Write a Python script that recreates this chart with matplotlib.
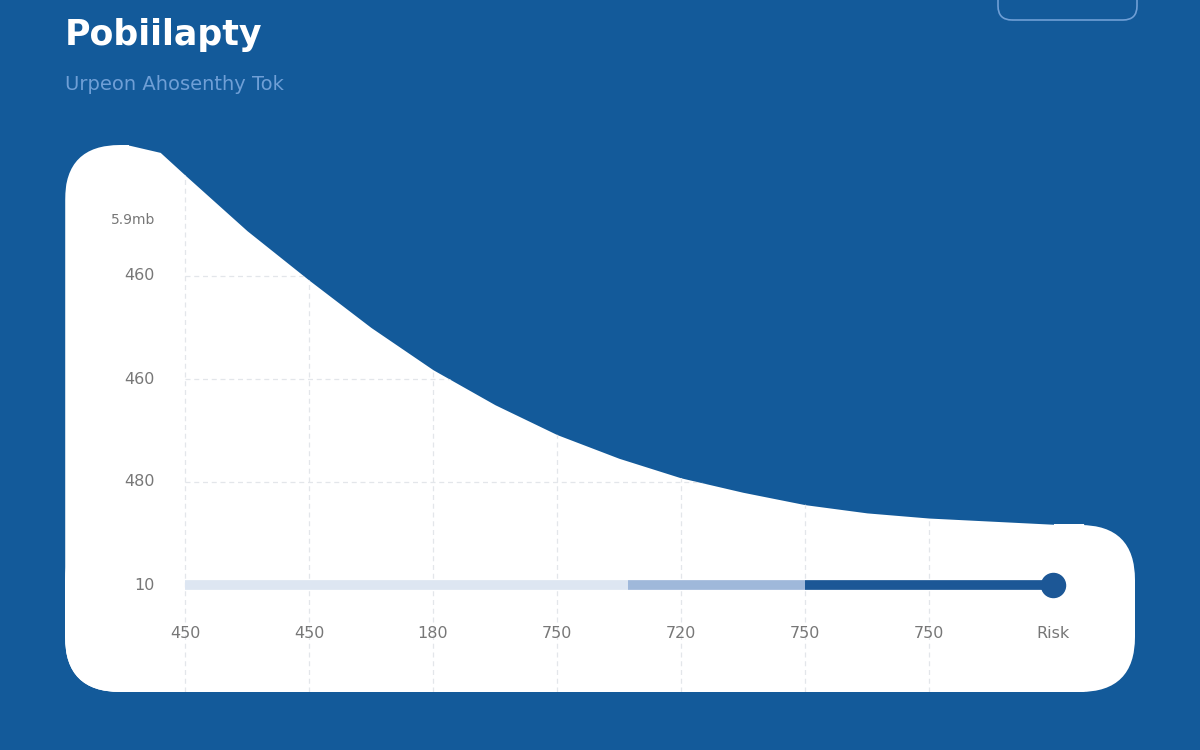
import matplotlib.pyplot as plt
import numpy as np
from matplotlib.patches import FancyBboxPatch

BG = "#135a9a"

# x categories (positions 0..7) and their labels
x_labels = ["450", "450", "180", "750", "720", "750", "750", "Risk"]
# y levels and labels
y_ticks = [0, 1, 2, 3, 3.54]
y_labels = ["10", "480", "460", "460", "5.9mb"]

# curve (x index, level)
curve_x = [-0.97, -0.45, -0.2, 0.0, 0.5, 1.0, 1.5, 2.0, 2.5, 3.0, 3.5, 4.0, 4.5, 5.0, 5.5, 6.0, 6.5, 7.0, 7.25]
curve_y = [4.27, 4.27, 4.20, 3.98, 3.44, 2.96, 2.50, 2.09, 1.75, 1.46, 1.23, 1.04, 0.90, 0.78, 0.70, 0.65, 0.62, 0.59, 0.59]

# progress bar segments (start, end, colour)
bar_segments = [(0, 3.57, "#dde6f2"), (3.57, 5.0, "#9fb8da"), (5.0, 7.0, "#1c5796")]

fig = plt.figure(figsize=(12, 7.5), dpi=100, facecolor=BG)
ax = fig.add_axes([0, 0, 1, 1])
ax.set_facecolor(BG)
ax.set_xlim((0 - 185) / 124, (1200 - 185) / 124)
ax.set_ylim((585 - 750) / 103, (585 - 0) / 103)
ax.axis("off")

def px(x, y):
    return (x - 185) / 124, (585 - y) / 103

# clip region: rounded card
x0, y0 = px(65, 692)
x1, y1 = px(1135, 145)
clip = FancyBboxPatch((65, 750 - 692), 1070, 547, boxstyle="round,pad=0,rounding_size=55",
                      transform=None, facecolor="none", edgecolor="none")
ax.add_patch(clip)

area = ax.fill_between(curve_x, curve_y, y0, color="white", lw=0)
area.set_clip_path(clip)
low = FancyBboxPatch((65, 750 - 692), 1070, 692 - 525, boxstyle="round,pad=0,rounding_size=55",
                     transform=None, facecolor="white", edgecolor="none")
ax.add_patch(low)

# grid
for i in range(0, 7):
    g = ax.plot([i, i], [y0, y1], color="#e3e6ea", lw=0.9, ls=(0, (4, 3)), zorder=2)[0]
    g.set_clip_path(area.get_paths()[0], area.get_transform())
for t in y_ticks[1:4]:
    g = ax.plot([0, 7.2], [t, t], color="#e3e6ea", lw=0.9, ls=(0, (4, 3)), zorder=2)[0]
    g.set_clip_path(area.get_paths()[0], area.get_transform())

# bar
for s, e, c in bar_segments:
    ax.plot([s, e], [0, 0], color=c, lw=7, solid_capstyle="butt", zorder=3)
ax.scatter([7], [0], s=300, color="#1c5796", zorder=4)

# tick labels
for i, lab in enumerate(x_labels):
    ax.text(i, px(0, 634)[1], lab, ha="center", va="center", fontsize=11.5, color="#777777",
            family="DejaVu Sans")
for t, lab in zip(y_ticks, y_labels):
    ax.text(px(155, 0)[0], t, lab, ha="right", va="center", fontsize=11.5 if lab != "5.9mb" else 10,
            color="#777777")

# titles
fig.text(65 / 1200, 1 - 35 / 750, "Pobiilapty", fontsize=25, fontweight="bold", color="white",
         va="center", ha="left")
fig.text(65 / 1200, 1 - 84 / 750, "Urpeon Ahosenthy Tok", fontsize=14, color="#6f9fd6",
         va="center", ha="left")

# top-right outline box
box = FancyBboxPatch((998, 750 - 20), 139, 40, boxstyle="round,pad=0,rounding_size=14",
                     transform=None, facecolor="none", edgecolor="#6f9fd6", lw=1.2)
fig.patches.append(box)

fig.savefig("out.png", dpi=100, facecolor=BG)
